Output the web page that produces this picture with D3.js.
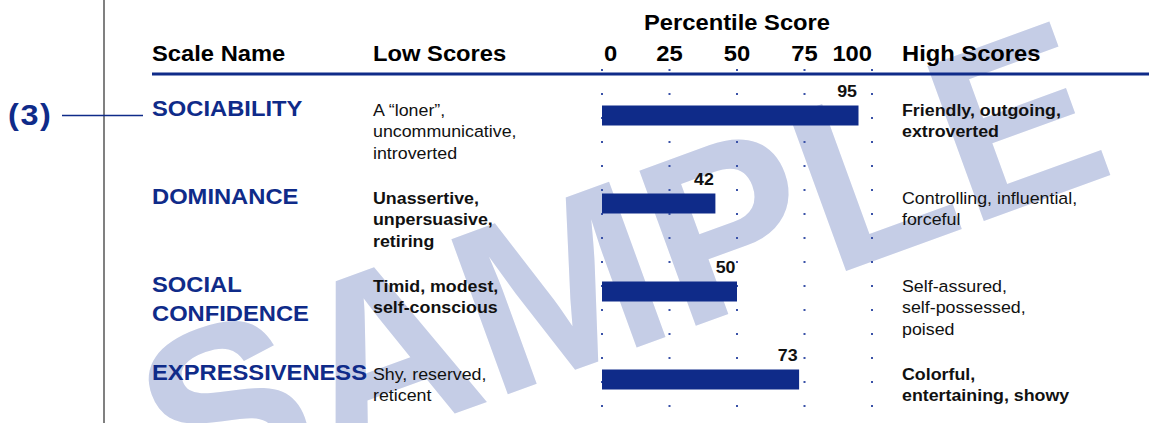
<!DOCTYPE html>
<html>
<head>
<meta charset="utf-8">
<script src="https://cdn.jsdelivr.net/npm/d3@7"></script>
<style>
  html,body{margin:0;padding:0;background:#fff;}
  svg{display:block;}
  text{font-family:'Liberation Sans',Arial,Helvetica,sans-serif;}
</style>
</head>
<body>
<svg id="chart" width="1149" height="423"></svg>
<script>
'use strict';

// chart data
var scaleNames=['SOCIABILITY','DOMINANCE','SOCIAL CONFIDENCE','EXPRESSIVENESS'];
var nameLines=[['SOCIABILITY'],['DOMINANCE'],['SOCIAL','CONFIDENCE'],['EXPRESSIVENESS']];
var scores=[95,42,50,73];
var lowText=[
    ['A \u201cloner\u201d,','uncommunicative,','introverted'],
    ['Unassertive,','unpersuasive,','retiring'],
    ['Timid, modest,','self-conscious'],
    ['Shy, reserved,','reticent']
];
var lowBold=[false,true,true,false];
var highText=[
    ['Friendly, outgoing,','extroverted'],
    ['Controlling, influential,','forceful'],
    ['Self-assured,','self-possessed,','poised'],
    ['Colorful,','entertaining, showy']
];
var highBold=[true,false,false,true];
var tickValues=[0,25,50,75,100];
var headers=['Scale Name','Low Scores','High Scores'];

var blue='#0f2b89'
  , stretch=1.08
  , svg=d3.select('#chart')
  , x=d3.scaleLinear().domain([0,100]).range([602,872])
  , y=d3.scaleBand().domain(scaleNames).range([71.5,423.5])
  , mid=function(n){return y(n)+y.bandwidth()/2;}

function put(sel,tx,ty){
    return sel.attr('transform','translate('+tx+','+ty+') scale('+stretch+',1)');
}

// watermark, sits under everything
svg.append('text')
    .attr('transform','translate(620,262) rotate(-20)')
    .attr('text-anchor','middle')
    .attr('dy','0.358em')
    .attr('font-size',240)
    .attr('font-weight','bold')
    .attr('fill','#c5cde6')
    .text('SAMPLE');

// left margin rule and callout
svg.append('line')
    .attr('x1',104).attr('x2',104)
    .attr('y1',0).attr('y2',423)
    .attr('stroke','#808080')
    .attr('stroke-width',2);
svg.append('line')
    .attr('x1',62).attr('x2',143)
    .attr('y1',mid(scaleNames[0])).attr('y2',mid(scaleNames[0]))
    .attr('stroke',blue)
    .attr('stroke-width',1.5);
put(svg.append('text'),8,125)
    .attr('font-size',30)
    .attr('font-weight','bold')
    .attr('letter-spacing',1.5)
    .attr('fill',blue)
    .text('(3)');

// dotted guides
var dotRows=d3.range(15).map(function(i){return 70+24*i;});
svg.append('g').selectAll('rect')
    .data(d3.cross(tickValues,dotRows))
    .join('rect')
    .attr('x',function(d){return x(d[0])-1;})
    .attr('y',function(d){return d[1]-1;})
    .attr('width',2)
    .attr('height',2)
    .attr('fill','#3a52a8');

// header
var head=svg.append('g')
    .attr('font-size',22)
    .attr('font-weight','bold')
    .attr('fill','#000');
put(head.append('text'),x(50),30)
    .attr('text-anchor','middle')
    .text('Percentile Score');
[152,373,902].forEach(function(hx,i){
    put(head.append('text'),hx,61).text(headers[i]);
});
tickValues.forEach(function(t,i){
    put(head.append('text'),x(t)+(i==0?2:0),61)
        .attr('text-anchor',i==0?'start':i==tickValues.length-1?'end':'middle')
        .text(t);
});
svg.append('line')
    .attr('x1',152).attr('x2',1149)
    .attr('y1',74).attr('y2',74)
    .attr('stroke',blue)
    .attr('stroke-width',3);

// rows
scaleNames.forEach(function(n,i){
    var cy=mid(n)
      , g=svg.append('g')

    nameLines[i].forEach(function(s,j){
        put(g.append('text'),152,cy+j*29)
            .attr('font-size',22)
            .attr('font-weight','bold')
            .attr('fill',blue)
            .text(s);
    });
    lowText[i].forEach(function(s,j){
        put(g.append('text'),373,cy+j*21.7)
            .attr('font-size',16.5)
            .attr('font-weight',lowBold[i]?'bold':'normal')
            .attr('fill','#111')
            .text(s);
    });
    highText[i].forEach(function(s,j){
        put(g.append('text'),902,cy+j*21.7)
            .attr('font-size',16.5)
            .attr('font-weight',highBold[i]?'bold':'normal')
            .attr('fill','#111')
            .text(s);
    });

    g.append('rect')
        .attr('x',x(0))
        .attr('y',cy-10)
        .attr('width',x(scores[i])-x(0))
        .attr('height',20)
        .attr('fill',blue);
    put(g.append('text'),x(scores[i])-1.5,cy-19)
        .attr('text-anchor','end')
        .attr('font-size',16.5)
        .attr('font-weight','bold')
        .attr('fill','#111')
        .text(scores[i]);
});
</script>
</body>
</html>
